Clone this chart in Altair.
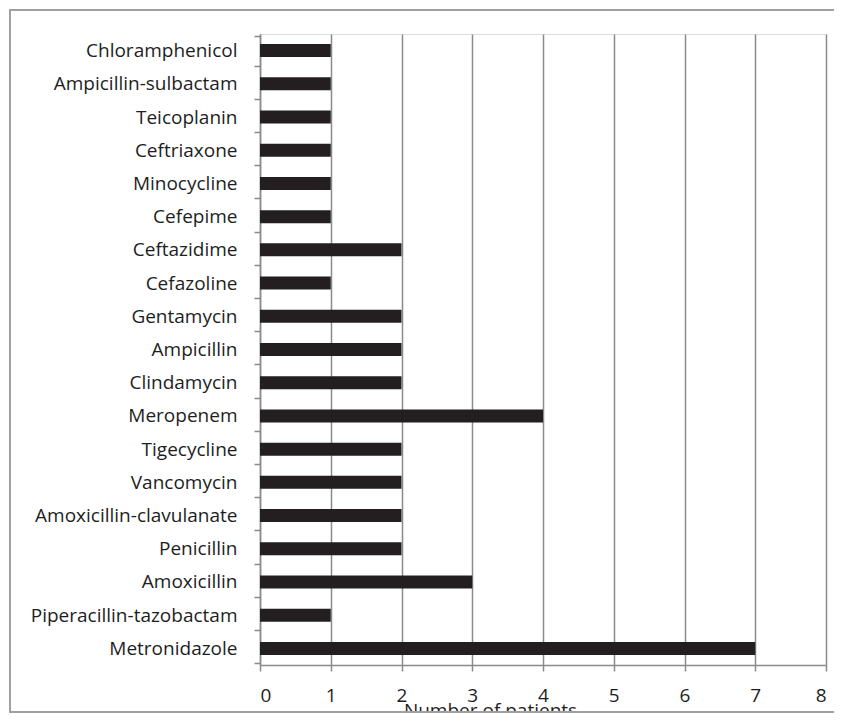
import altair as alt
import pandas as pd

drugs = ["Chloramphenicol", "Ampicillin-sulbactam", "Teicoplanin", "Ceftriaxone",
         "Minocycline", "Cefepime", "Ceftazidime", "Cefazoline", "Gentamycin",
         "Ampicillin", "Clindamycin", "Meropenem", "Tigecycline", "Vancomycin",
         "Amoxicillin-clavulanate", "Penicillin", "Amoxicillin",
         "Piperacillin-tazobactam", "Metronidazole"]
patients = [1, 1, 1, 1, 1, 1, 2, 1, 2, 2, 2, 4, 2, 2, 2, 2, 3, 1, 7]
x_ticks = [0, 1, 2, 3, 4, 5, 6, 7, 8]

df = pd.DataFrame({"drug": drugs, "n": patients})

FONT = "Open Sans"
W, H = 566, 631
PL, PT, PR, PB = 252, 26, 8, 48
GRID = "#8a8a8a"
TXT = "#1e1e1e"
FRAME_BOTTOM = H + PB - 1  # frame bottom edge, in plot coordinates

bars = alt.Chart(df).mark_bar(size=13, color="#231f20").encode(
    x=alt.X("n:Q", scale=alt.Scale(domain=[0, 8], nice=False),
            axis=alt.Axis(values=x_ticks, title="Number of patients",
                          grid=True, gridColor=GRID, gridWidth=1.5,
                          domainColor=GRID, domainWidth=1.5,
                          tickColor=GRID, tickWidth=1.5, tickSize=6,
                          labelFont=FONT, labelFontSize=19, labelColor=TXT,
                          labelPadding=15, titleFont=FONT, titleFontSize=19,
                          titleFontWeight="normal", titleColor=TXT,
                          titleX=230, titleY=36, titleAlign="center",
                          titleBaseline="top", format="d")),
    y=alt.Y("drug:N", sort=drugs,
            axis=alt.Axis(title=None, tickBand="extent", grid=False,
                          domainColor=GRID, domainWidth=1.5,
                          tickColor=GRID, tickWidth=1.5, tickSize=6,
                          labelFont=FONT, labelFontSize=19, labelColor=TXT,
                          labelPadding=17, labelLimit=400)),
)

mask = alt.Chart(df).mark_rect(color="white").encode(
    x=alt.value(-PL), x2=alt.value(W + PR), y=alt.value(FRAME_BOTTOM + 1),
    y2=alt.value(H + PB + 20)
)
frame = alt.Chart(df).mark_rect(fill=None, stroke="#a0a0a0", strokeWidth=1.5).encode(
    x=alt.value(10 - 8 - PL), x2=alt.value(W + 60), y=alt.value(10 - 8 - PT),
    y2=alt.value(FRAME_BOTTOM)
)

chart = alt.layer(bars, mask, frame).properties(
    width=W, height=H,
    autosize=alt.AutoSizeParams(type="none"),
    padding={"left": PL, "top": PT, "right": PR, "bottom": PB},
).configure_view(stroke=None).configure(background="white")

chart.save("out.html", embed_options={"renderer": "svg", "actions": False})
